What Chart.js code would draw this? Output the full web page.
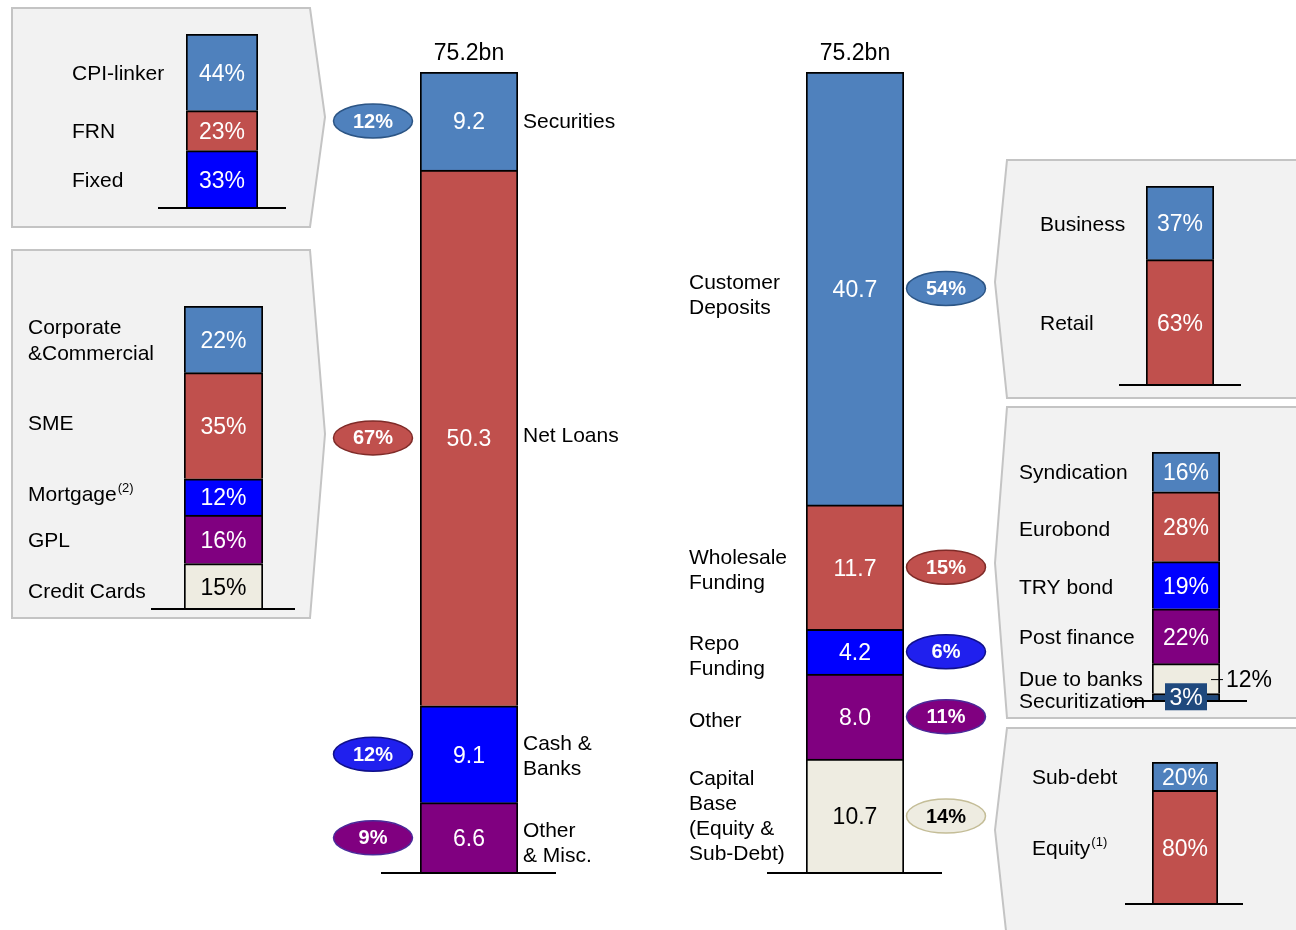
<!DOCTYPE html>
<html>
<head>
<meta charset="utf-8">
<title>Balance sheet breakdown</title>
<script src="https://cdn.jsdelivr.net/npm/chart.js@4.4.0/dist/chart.umd.min.js"></script>
<style>
  body { margin: 0; background: #fff; }
  #page { position: relative; width: 1296px; height: 930px; overflow: hidden; }
  #page svg, #page canvas { position: absolute; }
</style>
</head>
<body>
<div id="page">
  <!-- grey call-out panels behind the breakdown bars -->
  <svg width="1296" height="930" style="left:0;top:0">
    <g fill="#F2F2F2" stroke="#C4C4C4" stroke-width="2">
      <path d="M12,8 L310,8 L325,117 L310,227 L12,227 Z"/>
      <path d="M12,250 L310,250 L325,434 L310,618 L12,618 Z"/>
      <path d="M1007,160 L1300,160 L1300,398 L1007,398 L995,282 Z"/>
      <path d="M1007,407 L1300,407 L1300,718 L1007,718 L995,563 Z"/>
      <path d="M1007,728 L1300,728 L1300,940 L1007,940 L995,830 Z"/>
    </g>
  </svg>
  <canvas id="securitiesChart"></canvas>
  <canvas id="loansChart"></canvas>
  <canvas id="assetsChart"></canvas>
  <canvas id="fundingChart"></canvas>
  <canvas id="depositsChart"></canvas>
  <canvas id="wholesaleChart"></canvas>
  <canvas id="capitalChart"></canvas>
</div>
<script>
// Balance sheet totals (bn)
const totalLabel = '75.2bn';
const assetNames = ['Securities', 'Net Loans', 'Cash &\nBanks', 'Other\n& Misc.'];
const assetValues = [9.2, 50.3, 9.1, 6.6];
const assetShares = ['12%', '67%', '12%', '9%'];

const fundingNames = ['Customer\nDeposits', 'Wholesale\nFunding', 'Repo\nFunding', 'Other', 'Capital\nBase\n(Equity &\nSub-Debt)'];
const fundingValues = [40.7, 11.7, 4.2, 8.0, 10.7];
const fundingShares = ['54%', '15%', '6%', '11%', '14%'];

// Breakdowns (%)
const securitiesNames = ['CPI-linker', 'FRN', 'Fixed'];
const securitiesShares = [44, 23, 33];
const loanNames = ['Corporate\n&Commercial', 'SME', 'Mortgage^(2)', 'GPL', 'Credit Cards'];
const loanShares = [22, 35, 12, 16, 15];
const depositNames = ['Business', 'Retail'];
const depositShares = [37, 63];
const wholesaleNames = ['Syndication', 'Eurobond', 'TRY bond', 'Post finance', 'Due to banks', 'Securitization'];
const wholesaleShares = [16, 28, 19, 22, 12, 3];
const capitalNames = ['Sub-debt', 'Equity^(1)'];
const capitalShares = [20, 80];

const palette = ['#4F81BD', '#C0504D', '#0000FF', '#800080', '#EEECE1', '#1F497D'];
const ovalStyles = {
    '#4F81BD': { fill: '#4F81BD', stroke: '#2C5585', text: '#fff' },
    '#C0504D': { fill: '#C0504D', stroke: '#7F2B28', text: '#fff' },
    '#0000FF': { fill: '#2020EE', stroke: '#10108A', text: '#fff' },
    '#800080': { fill: '#800080', stroke: '#4A2A9A', text: '#fff' },
    '#EEECE1': { fill: '#EEECE1', stroke: '#C4BD97', text: '#000' }
};
const FONT = '"Liberation Sans", Arial, sans-serif';
const TEXT_DY = 2; // canvas 'middle' sits a touch high for this font

// Draw a (possibly multi-line) label; "^" starts a superscript
function drawLabel(ctx, text, x, y, size, lineH) {
    const lines = text.split('\n');
    const y0 = y - (lines.length - 1) * lineH / 2;
    ctx.textAlign = 'left';
    ctx.textBaseline = 'middle';
    ctx.fillStyle = '#000';
    lines.forEach((line, i) => {
        const parts = line.split('^');
        const ly = y0 + i * lineH;
        ctx.font = size + 'px ' + FONT;
        ctx.fillText(parts[0], x, ly);
        if (parts[1]) {
            const w = ctx.measureText(parts[0]).width;
            ctx.font = Math.round(size * 0.62) + 'px ' + FONT;
            ctx.fillText(parts[1], x + w + 1, ly - size * 0.3);
        }
    });
}

// One stacked column; box = [left, top, width, height] of the canvas,
// bar = [left, right, top, bottom] of the plot area, all in page pixels
function stackChart(id, box, bar, values, names, cfg) {
    const canvas = document.getElementById(id);
    canvas.width = box[2];
    canvas.height = box[3];
    canvas.style.left = box[0] + 'px';
    canvas.style.top = box[1] + 'px';
    const total = values.reduce((a, b) => a + b, 0);
    const colors = palette.slice(0, values.length);

    const datasets = values.map((v, i) => ({
        label: names[i],
        idx: i,
        data: [v],
        backgroundColor: colors[i],
        borderColor: '#000',
        borderWidth: 2,
        barPercentage: 1,
        categoryPercentage: 1
    })).reverse();

    const labelPlugin = {
        id: 'stackLabels',
        afterDatasetsDraw(chart) {
            const ctx = chart.ctx;
            const area = chart.chartArea;
            const toX = px => px - box[0];
            ctx.save();

            // baseline
            ctx.strokeStyle = '#000';
            ctx.lineWidth = 2;
            ctx.beginPath();
            ctx.moveTo(area.left - cfg.base[0], area.bottom);
            ctx.lineTo(area.right + cfg.base[1], area.bottom);
            ctx.stroke();

            chart.data.datasets.forEach((ds, j) => {
                const el = chart.getDatasetMeta(j).data[0];
                const i = ds.idx;
                const cy = (el.y + el.base) / 2;
                const ty = cy + TEXT_DY;
                const dark = colors[i] === '#EEECE1';
                const special = cfg.special && cfg.special[i];

                // value inside the segment
                const txt = cfg.valueText(values[i]);
                ctx.font = cfg.valueSize + 'px ' + FONT;
                ctx.textBaseline = 'middle';
                if (special === 'outside') {
                    ctx.strokeStyle = '#000';
                    ctx.lineWidth = 1;
                    ctx.beginPath();
                    ctx.moveTo(el.x + el.width / 2 - 9, cy + 1);
                    ctx.lineTo(el.x + el.width / 2 + 3, cy + 1);
                    ctx.stroke();
                    ctx.fillStyle = '#000';
                    ctx.textAlign = 'left';
                    ctx.fillText(txt, el.x + el.width / 2 + 6, ty);
                } else if (special === 'box') {
                    ctx.fillStyle = colors[i];
                    ctx.fillRect(el.x - 21, cy - 14, 42, 27);
                    ctx.fillStyle = '#fff';
                    ctx.textAlign = 'center';
                    ctx.fillText(txt, el.x, ty - 1);
                } else {
                    ctx.fillStyle = dark ? '#000' : '#fff';
                    ctx.textAlign = 'center';
                    ctx.fillText(txt, el.x, ty);
                }

                // category name
                drawLabel(ctx, names[i], toX(cfg.labelX), ty + (cfg.labelDy ? cfg.labelDy[i] : 0), cfg.labelSize, cfg.lineH);

                // share oval
                if (cfg.shares) {
                    const st = ovalStyles[colors[i]];
                    const ox = toX(cfg.ovalX);
                    ctx.beginPath();
                    ctx.ellipse(ox, cy, 39.5, 17, 0, 0, Math.PI * 2);
                    ctx.fillStyle = st.fill;
                    ctx.fill();
                    ctx.lineWidth = 1.5;
                    ctx.strokeStyle = st.stroke;
                    ctx.stroke();
                    ctx.fillStyle = st.text;
                    ctx.font = 'bold 20px ' + FONT;
                    ctx.textAlign = 'center';
                    ctx.fillText(cfg.shares[i], ox, cy + 1);
                }
            });

            if (cfg.title) {
                ctx.fillStyle = '#000';
                ctx.font = '23px ' + FONT;
                ctx.textAlign = 'center';
                ctx.textBaseline = 'middle';
                ctx.fillText(cfg.title, (area.left + area.right) / 2, area.top - 20 + TEXT_DY);
            }
            ctx.restore();
        }
    };

    return new Chart(canvas, {
        type: 'bar',
        data: { labels: [''], datasets: datasets },
        options: {
            responsive: false,
            animation: false,
            devicePixelRatio: 1,
            layout: {
                padding: {
                    left: bar[0] - box[0],
                    right: box[0] + box[2] - bar[1],
                    top: bar[2] - box[1],
                    bottom: box[1] + box[3] - bar[3]
                }
            },
            plugins: { legend: { display: false }, tooltip: { enabled: false } },
            scales: {
                x: { display: false, stacked: true },
                y: { display: false, stacked: true, min: 0, max: total }
            }
        },
        plugins: [labelPlugin]
    });
}

const bn = v => v.toFixed(1);
const pct = v => v + '%';

stackChart('assetsChart', [330, 20, 310, 870], [420, 518, 72, 873], assetValues, assetNames, {
    valueText: bn, valueSize: 23, labelX: 523, labelSize: 21, lineH: 25,
    labelDy: [-1, -4, 0, 4],
    base: [39, 38], shares: assetShares, ovalX: 373, title: totalLabel
});

stackChart('fundingChart', [680, 20, 310, 870], [806, 904, 72, 873], fundingValues, fundingNames, {
    valueText: bn, valueSize: 23, labelX: 689, labelSize: 21, lineH: 25,
    labelDy: [5, 2, 3, 3, -1],
    base: [39, 38], shares: fundingShares, ovalX: 946, title: totalLabel
});

stackChart('securitiesChart', [40, 20, 270, 200], [186, 258, 34, 208], securitiesShares, securitiesNames, {
    valueText: pct, valueSize: 23, labelX: 72, labelSize: 21, lineH: 26, base: [28, 28]
});

stackChart('loansChart', [20, 290, 290, 325], [184, 263, 306, 609], loanShares, loanNames, {
    valueText: pct, valueSize: 23, labelX: 28, labelSize: 21, lineH: 26, base: [33, 32],
    labelDy: [0, -3, -4, 0, 4]
});

stackChart('depositsChart', [1020, 170, 270, 225], [1146, 1214, 186, 385], depositShares, depositNames, {
    valueText: pct, valueSize: 23, labelX: 1040, labelSize: 21, lineH: 26, base: [27, 27]
});

stackChart('wholesaleChart', [1012, 420, 280, 295], [1152, 1220, 452, 701], wholesaleShares, wholesaleNames, {
    valueText: pct, valueSize: 23, labelX: 1019, labelSize: 21, lineH: 26, base: [25, 27],
    labelDy: [-1, 2, 1, 0, 0, 3], special: { 4: 'outside', 5: 'box' }
});

stackChart('capitalChart', [1015, 740, 275, 180], [1152, 1218, 762, 904], capitalShares, capitalNames, {
    valueText: pct, valueSize: 23, labelX: 1032, labelSize: 21, lineH: 26, base: [27, 25]
});
</script>
</body>
</html>
